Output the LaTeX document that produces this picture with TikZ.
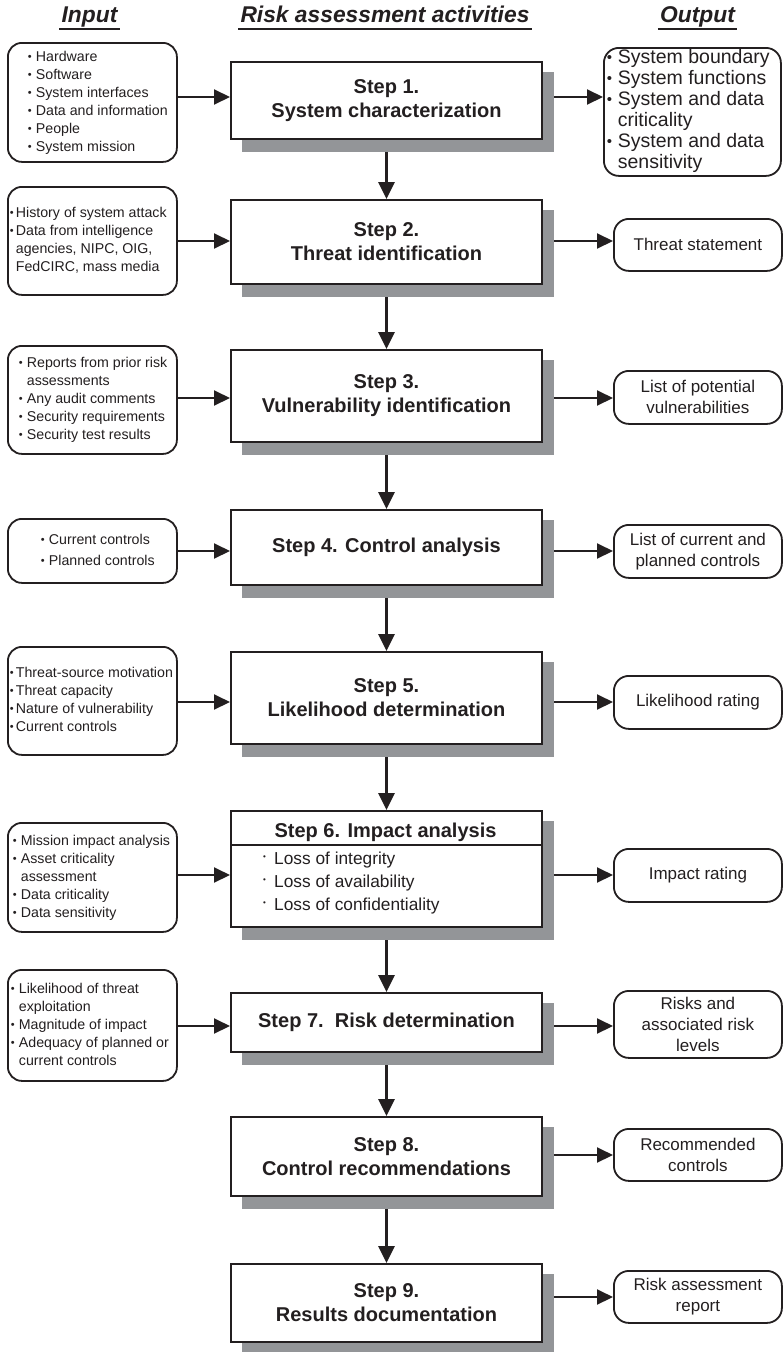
\documentclass[tikz,border=0pt]{standalone}
\usepackage{fontspec}
\setmainfont{Liberation Sans}
\usetikzlibrary{arrows.meta,calc}
\definecolor{ink}{HTML}{231F20}
\definecolor{shade}{HTML}{939598}
\newcommand\bu[1][8]{\makebox[#1pt][l]{\raisebox{0.05em}{\fontsize{11}{11}\selectfont •}}}
\newcommand\bub{\makebox[11pt][l]{\raisebox{0.05em}{\fontsize{15}{15}\selectfont •}}}
\newcommand\dotb{\makebox[11pt][l]{\raisebox{0.28em}{\fontsize{8}{8}\selectfont •}}}
\newcommand\hs[1][8]{\hspace*{#1pt}}
\newcommand\inlist[2]{\makebox[169pt][l]{\hspace*{#1pt}\begin{tabular}{@{}l@{}}#2\end{tabular}}}
\tikzset{
  stepbox/.style={draw=ink, line width=2pt, fill=white, inner sep=0pt, minimum width=311pt,
    anchor=north west, align=center, font=\fontsize{20}{24}\selectfont\bfseries, text=ink},
  shadebox/.style={fill=shade, draw=none, inner sep=0pt, minimum width=312pt, anchor=north west},
  inbox/.style={draw=ink, line width=1.8pt, rounded corners=14pt, inner sep=0pt, minimum width=169pt,
    anchor=north west, font=\fontsize{14.2}{18}\selectfont, text=ink},
  outbox/.style={draw=ink, line width=1.8pt, rounded corners=15pt, inner sep=0pt, minimum width=168pt,
    anchor=north west, align=center, font=\fontsize{17}{21}\selectfont, text=ink},
  harr/.style={draw=ink, line width=2pt, -{Triangle[length=16pt,width=15pt]}},
  varr/.style={draw=ink, line width=3pt, -{Triangle[length=17pt,width=16pt]}},
  hdr/.style={font=\fontsize{22.8}{26}\selectfont\bfseries\itshape, text=ink, inner sep=0pt, anchor=base},
  uline/.style={draw=ink, line width=1.7pt},
}
\newcommand\stepnode[4]{%
  \node[shadebox, minimum height=#3pt+3pt] (#1-sh) at (242,#2+11) {};
  \node[stepbox, minimum height=#3pt] (#1) at (230,#2) {#4};}
\begin{document}
\begin{tikzpicture}[x=1pt,y=-1pt]
\fill[white] (0,0) rectangle (782,1352);
\useasboundingbox (0,0) rectangle (782,1352);

% headers
\node[hdr] (hin) at (89.5,22) {Input};
\node[hdr] (hra) at (385,22) {Risk assessment activities};
\node[hdr] (hout) at (697.5,22) {Output};
\foreach \h in {hin,hra,hout}
  \draw[uline] ([shift={(-2,7)}]\h.base west) -- ([shift={(2,7)}]\h.base east);

% row levels
\coordinate (r1) at (0,97);
\coordinate (r2) at (0,241);
\coordinate (r3) at (0,398);
\coordinate (r4) at (0,551);
\coordinate (r5) at (0,702);
\coordinate (r6) at (0,875);
\coordinate (r7) at (0,1026);
\coordinate (r8) at (0,1155);
\coordinate (r9) at (0,1297);

% steps
\stepnode{s1}{61}{77}{Step 1.\\System characterization}
\stepnode{s2}{199}{84}{Step 2.\\Threat identification}
\stepnode{s3}{349}{92}{Step 3.\\Vulnerability identification}
\stepnode{s4}{509}{75}{Step 4. Control analysis}
\stepnode{s5}{651}{92}{Step 5.\\Likelihood determination}
\stepnode{s6}{810}{116}{}
\stepnode{s7}{992}{59}{Step 7.\ \ Risk determination}
\stepnode{s8}{1116}{79}{Step 8.\\Control recommendations}
\stepnode{s9}{1263}{78}{Step 9.\\Results documentation}

% step 6 inner content
\node[font=\fontsize{20}{24}\selectfont\bfseries, text=ink, inner sep=0pt, anchor=base] (s6h) at (385.5,837) {Step 6. Impact analysis};
\coordinate (d6) at (0,845);
\draw[draw=ink, line width=1.5pt] (s6.west |- d6) -- (s6.east |- d6);
\node[font=\fontsize{17.3}{23}\selectfont, text=ink, inner sep=0pt, anchor=north west, align=left] (s6l) at (263,851.5)
  {\dotb Loss of integrity\\ \dotb Loss of availability\\ \dotb Loss of confidentiality};

% inputs
\node[inbox, minimum height=119pt] (i1) at (7,42) {\inlist{20}{\bu Hardware\\ \bu Software\\ \bu System interfaces\\ \bu Data and information\\ \bu People\\ \bu System mission}};
\node[inbox, minimum height=108pt] (i2) at (7,186) {\inlist{2}{\bu[6]History of system attack\\ \bu[6]Data from intelligence\\ \hs[6]agencies, NIPC, OIG,\\ \hs[6]FedCIRC, mass media}};
\node[inbox, minimum height=108pt] (i3) at (7,345) {\inlist{11}{\bu Reports from prior risk\\ \hs assessments\\ \bu Any audit comments\\ \bu Security requirements\\ \bu Security test results}};
\node[inbox, minimum height=64pt] (i4) at (7,518) {\inlist{33}{\fontsize{14.2}{21}\selectfont\begin{tabular}{@{}l@{}}\bu Current controls\\ \bu Planned controls\end{tabular}}};
\node[inbox, minimum height=108pt] (i5) at (7,646) {\inlist{2}{\bu[6]Threat-source motivation\\ \bu[6]Threat capacity\\ \bu[6]Nature of vulnerability\\ \bu[6]Current controls}};
\node[inbox, minimum height=109pt] (i6) at (7,822) {\inlist{5}{\bu Mission impact analysis\\ \bu Asset criticality\\ \hs assessment\\ \bu Data criticality\\ \bu Data sensitivity}};
\node[inbox, minimum height=111pt] (i7) at (7,969) {\inlist{3}{\bu Likelihood of threat\\ \hs exploitation\\ \bu Magnitude of impact\\ \bu Adequacy of planned or\\ \hs current controls}};

% outputs
\node[outbox, minimum width=177pt, minimum height=128pt, font=\fontsize{19.5}{21}\selectfont] (o1) at (603,47)
  {\makebox[177pt][l]{\hspace*{3pt}\begin{tabular}{@{}l@{}}\bub System boundary\\ \bub System functions\\ \bub System and data\\ \hs[11]criticality\\ \bub System and data\\ \hs[11]sensitivity\end{tabular}}};
\node[outbox, minimum height=52pt] (o2) at (613,218) {Threat statement};
\node[outbox, minimum height=53pt] (o3) at (613,370) {List of potential\\vulnerabilities};
\node[outbox, minimum height=53pt] (o4) at (613,524) {List of current and\\planned controls};
\node[outbox, minimum height=53pt] (o5) at (613,675) {Likelihood rating};
\node[outbox, minimum height=53pt] (o6) at (613,848) {Impact rating};
\node[outbox, minimum height=67pt] (o7) at (613,990) {Risks and\\associated risk\\levels};
\node[outbox, minimum height=52pt] (o8) at (613,1128) {Recommended\\controls};
\node[outbox, minimum height=52pt] (o9) at (613,1270) {Risk assessment\\report};

% connectors
\foreach \n in {1,...,7}
  \draw[harr] (i\n.east |- r\n) -- (s\n.west |- r\n);
\foreach \n in {1,...,9}
  \draw[harr] (s\n-sh.east |- r\n) -- (o\n.west |- r\n);
\foreach \a/\b in {s1/s2,s2/s3,s3/s4,s4/s5,s5/s6,s6/s7,s7/s8,s8/s9}
  \draw[varr] (\a.south |- \a-sh.south) -- (\b.north);
\end{tikzpicture}
\end{document}
